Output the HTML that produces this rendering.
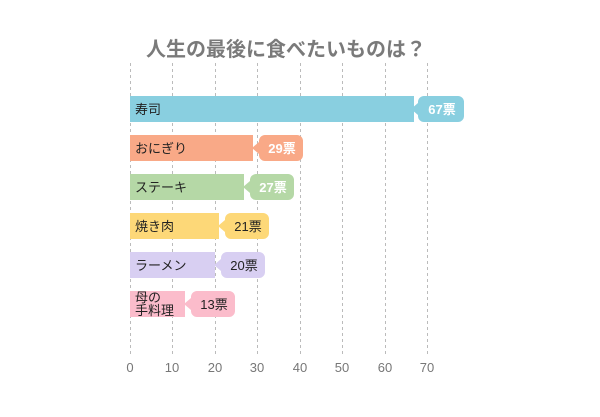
<!DOCTYPE html>
<html><head><meta charset="utf-8"><style>
body{margin:0;background:#fff;width:600px;height:412px;overflow:hidden}
svg text{font-family:"Liberation Sans","Noto Sans CJK JP",sans-serif}
</style></head><body>
<svg width="600" height="412" xmlns="http://www.w3.org/2000/svg">
<text x="286" y="56" text-anchor="middle" font-size="20" fill="#7a7a7a" font-weight="bold">人生の最後に食べたいものは？</text>
<g stroke="#bbb" stroke-dasharray="3,3" stroke-width="1">
<line x1="130.5" y1="63" x2="130.5" y2="356"/>
<line x1="172.5" y1="63" x2="172.5" y2="356"/>
<line x1="215.5" y1="63" x2="215.5" y2="356"/>
<line x1="257.5" y1="63" x2="257.5" y2="356"/>
<line x1="300.5" y1="63" x2="300.5" y2="356"/>
<line x1="342.5" y1="63" x2="342.5" y2="356"/>
<line x1="385.5" y1="63" x2="385.5" y2="356"/>
<line x1="427.5" y1="63" x2="427.5" y2="356"/>
</g>
<g font-size="13" fill="#777" text-anchor="middle">
<text x="130" y="372">0</text><text x="172" y="372">10</text><text x="215" y="372">20</text><text x="257" y="372">30</text><text x="300" y="372">40</text><text x="342" y="372">50</text><text x="385" y="372">60</text><text x="427" y="372">70</text>
</g>
<g font-size="13" fill="#222">
<rect x="130" y="96" width="284" height="26" fill="#89cfe0"/>
<path d="M424 96h34a6 6 0 0 1 6 6v14a6 6 0 0 1 -6 6h-34a6 6 0 0 1 -6-6v-1l-7-6 7-6v-1a6 6 0 0 1 6-6z" fill="#89cfe0"/>
<text x="135" y="114">寿司</text>
<text x="442" y="114" text-anchor="middle" fill="#fff" font-weight="bold">67票</text>

<rect x="130" y="135" width="123" height="26" fill="#f9a987"/>
<path d="M265 135h32a6 6 0 0 1 6 6v14a6 6 0 0 1 -6 6h-32a6 6 0 0 1 -6-6v-1l-7-6 7-6v-1a6 6 0 0 1 6-6z" fill="#f9a987"/>
<text x="135" y="153">おにぎり</text>
<text x="282" y="153" text-anchor="middle" fill="#fff" font-weight="bold">29票</text>

<rect x="130" y="174" width="114" height="26" fill="#b5d8a6"/>
<path d="M256 174h32a6 6 0 0 1 6 6v14a6 6 0 0 1 -6 6h-32a6 6 0 0 1 -6-6v-1l-7-6 7-6v-1a6 6 0 0 1 6-6z" fill="#b5d8a6"/>
<text x="135" y="192">ステーキ</text>
<text x="273" y="192" text-anchor="middle" fill="#fff" font-weight="bold">27票</text>

<rect x="130" y="213" width="89" height="26" fill="#fdd878"/>
<path d="M231 213h32a6 6 0 0 1 6 6v14a6 6 0 0 1 -6 6h-32a6 6 0 0 1 -6-6v-1l-7-6 7-6v-1a6 6 0 0 1 6-6z" fill="#fdd878"/>
<text x="135" y="231">焼き肉</text>
<text x="248" y="231" text-anchor="middle">21票</text>

<rect x="130" y="252" width="85" height="26" fill="#d8cff2"/>
<path d="M227 252h32a6 6 0 0 1 6 6v14a6 6 0 0 1 -6 6h-32a6 6 0 0 1 -6-6v-1l-7-6 7-6v-1a6 6 0 0 1 6-6z" fill="#d8cff2"/>
<text x="135" y="270">ラーメン</text>
<text x="244" y="270" text-anchor="middle">20票</text>

<rect x="130" y="291" width="55" height="26" fill="#fbbccb"/>
<path d="M197 291h32a6 6 0 0 1 6 6v14a6 6 0 0 1 -6 6h-32a6 6 0 0 1 -6-6v-1l-7-6 7-6v-1a6 6 0 0 1 6-6z" fill="#fbbccb"/>
<text x="135" y="302">母の</text>
<text x="135" y="315">手料理</text>
<text x="214" y="309" text-anchor="middle">13票</text>
</g>
</svg>
</body></html>
